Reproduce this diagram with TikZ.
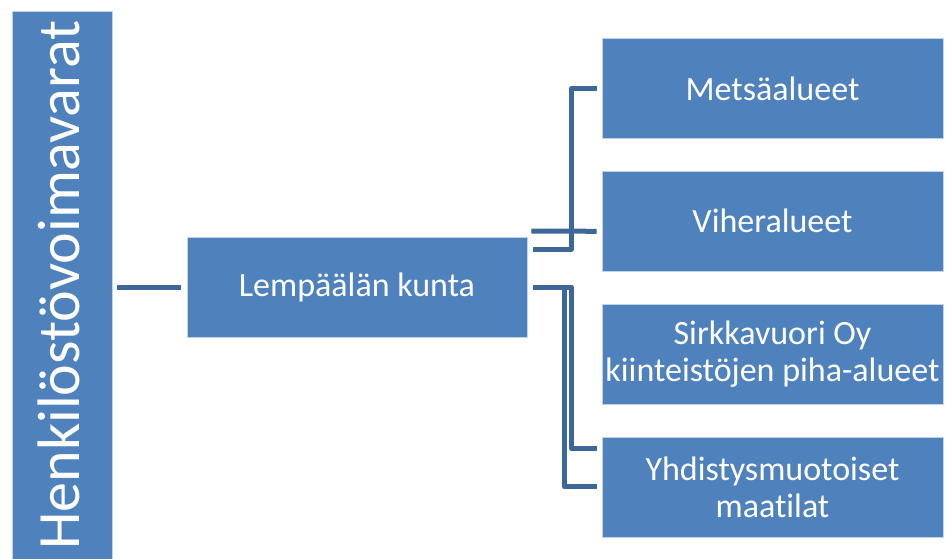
\documentclass[tikz,border=0pt]{standalone}
\usepackage{fontspec}
\setmainfont{Carlito}[Ligatures = NoCommon]
\usepackage{tikz}
\usetikzlibrary{positioning}
\definecolor{boxblue}{HTML}{4F81BD}
\definecolor{linkblue}{HTML}{3C6798}

\begin{document}
\begin{tikzpicture}[x = 1pt, y = -1pt,
    box/.style = {fill = boxblue, draw = white!65!boxblue, line width = .8pt,
        text = white, font = \fontsize{34}{37}\selectfont, align = center,
        inner sep = 0pt, minimum width = 341pt, minimum height = 100pt},
    link/.style = {draw = linkblue, line width = 5pt, line join = round}]
    \useasboundingbox (0, 0) rectangle (946, 559);

    %% root
    \node[box, minimum width = 100pt, minimum height = 552pt] (henk) at (62, 287) {};
    \node[rotate = 90, anchor = base, text = white, inner sep = 0pt,
        font = \fontsize{60}{72}\selectfont] (henklabel) at (79, 285) {Henkilöstövoimavarat};

    %% boxes
    \node[box, minimum width = 340pt] (kunta) at (357, 287) {Lempäälän kunta};
    \node[box] (mets) at (772.5, 88.5) {Metsäalueet};
    \node[box, below = 32pt of mets] (vihe) {Viheralueet};
    \node[box, below = 32pt of vihe] (sirkka) {Sirkkavuori Oy\\kiinteistöjen piha-alueet};
    \node[box, below = 32pt of sirkka] (yhd) {Yhdistysmuotoiset\\maatilat};

    %% links
    \draw[link] ([xshift = 5pt]henk.east) -- ([xshift = -6pt]kunta.west);
    \draw[link] ([xshift = 6pt, yshift = 38pt]kunta.east)
        -| ([xshift = -30pt]mets.west) -- ([xshift = -5pt]mets.west);
    \draw[link] ([xshift = 4pt, yshift = 56pt]kunta.east)
        -- ([xshift = -5pt, yshift = -10pt]vihe.west);
    \draw[link] ([xshift = 6pt]kunta.east)
        -| ([xshift = -30pt, yshift = 38pt]yhd.west) -- ([xshift = -5pt, yshift = 38pt]yhd.west);
    \draw[link] ([xshift = 6pt]kunta.east)
        -| ([xshift = -37pt]yhd.west) -- ([xshift = -5pt]yhd.west);
\end{tikzpicture}
\end{document}
